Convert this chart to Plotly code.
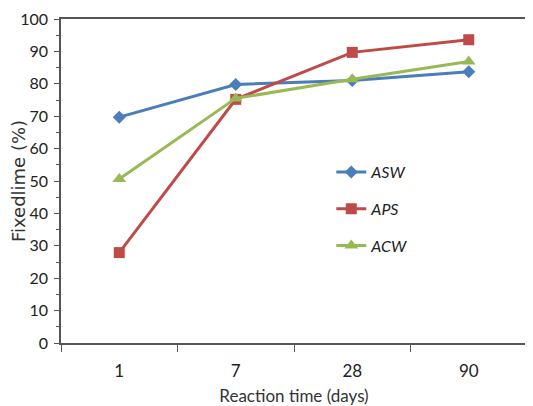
import plotly.graph_objects as go

categories = ["1", "7", "28", "90"]
asw = [69.7, 79.8, 81.0, 83.7]
aps = [27.9, 75.2, 89.7, 93.6]
acw = [50.6, 75.5, 81.4, 86.9]
series_names = ["ASW", "APS", "ACW"]
colors = ["#4A7EBB", "#BE4B48", "#98B954"]
symbols = ["diamond", "square", "triangle-up"]
sizes = [10, 11, 12]

FONT = "Lato, Liberation Sans, sans-serif"

fig = go.Figure()
for i, (name, vals) in enumerate(zip(series_names, [asw, aps, acw])):
    fig.add_trace(go.Scatter(
        x=categories, y=vals, name="<i>" + name + "</i>", mode="lines+markers",
        line=dict(color=colors[i], width=3),
        marker=dict(symbol=symbols[i], size=sizes[i], color=colors[i]),
        legendgroup=name,
    ))

fig.update_layout(
    width=533, height=406,
    margin=dict(l=53, r=14, t=11, b=71),
    plot_bgcolor="white", paper_bgcolor="white",
    font=dict(family=FONT, size=16, color="#333333"),
    showlegend=True,
    legend=dict(x=0.58, y=0.58, xanchor="left", yanchor="top",
                font=dict(family=FONT, size=16, color="#222222"),
                traceorder="grouped", tracegroupgap=13,
                itemwidth=30, bgcolor="rgba(0,0,0,0)"),
    xaxis=dict(type="category", range=[-0.5, 3.5], showgrid=False, automargin=False,
               showline=True, linecolor="#555555", linewidth=1.5, mirror=True,
               ticks="outside", ticklen=7, tickcolor="#555555", tickson="boundaries",
               ticklabelstandoff=12, ticklabeloverflow="allow",
               title=dict(text="Reaction time (days)", standoff=10,
                          font=dict(family=FONT, size=17, color="#333333")),
               tickfont=dict(family=FONT, size=17, color="#222222")),
    yaxis=dict(range=[0, 100], dtick=10, showgrid=False, zeroline=False, automargin=False,
               showline=True, linecolor="#555555", linewidth=1.5,
               ticks="outside", ticklen=5, tickcolor="#555555",
               ticklabelstandoff=3, ticklabeloverflow="allow",
               minor=dict(dtick=5, ticks="outside", ticklen=3, tickcolor="#555555"),
               title=dict(text="Fixedlime (%)", standoff=5,
                          font=dict(family="DejaVu Sans, sans-serif", size=18, color="#333333")),
               tickfont=dict(family=FONT, size=16, color="#222222")),
)

fig.write_html("out.html")
